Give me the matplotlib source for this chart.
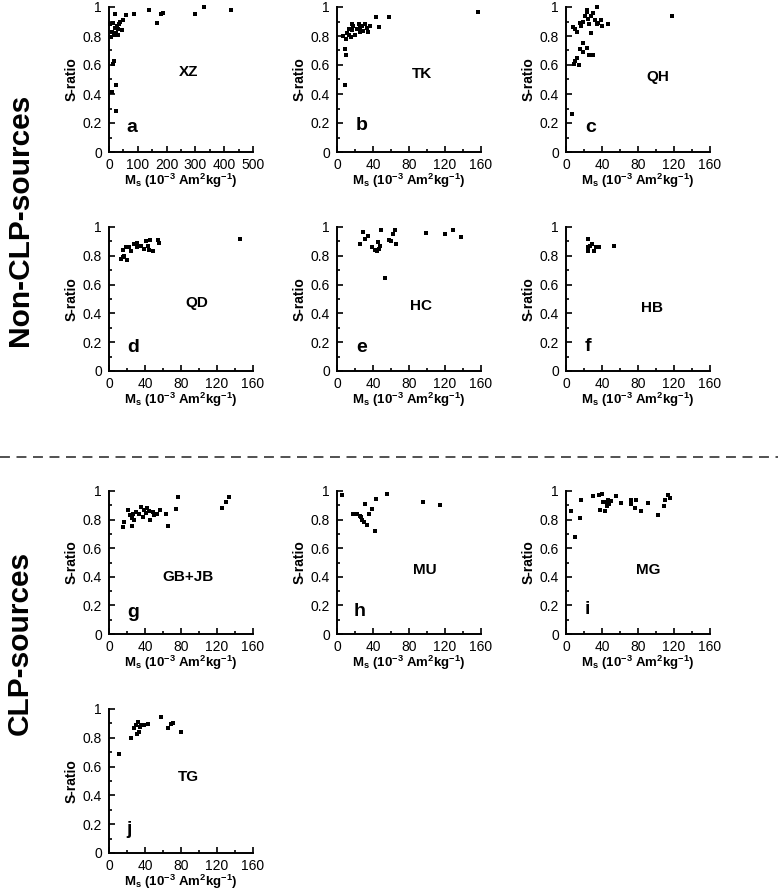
import matplotlib
matplotlib.use('Agg')
import matplotlib.pyplot as plt
from matplotlib.ticker import MultipleLocator, FuncFormatter
from matplotlib.lines import Line2D

plt.rcParams['font.family'] = ['Liberation Sans', 'DejaVu Sans']
plt.rcParams['mathtext.fontset'] = 'custom'
plt.rcParams['mathtext.rm'] = 'Liberation Sans:bold'
plt.rcParams['mathtext.it'] = 'Liberation Sans:bold'
plt.rcParams['mathtext.bf'] = 'Liberation Sans:bold'

# ---------------- data ----------------
xz_ms = [20, 35, 49, 60, 46, 86, 140, 165, 180, 188, 299, 330, 423, 8, 14, 20, 26, 28, 31, 12, 37,
         16, 16, 14, 26, 12, 23, 5, 31]
xz_s = [0.954, 0.88, 0.91, 0.945, 0.84, 0.954, 0.977, 0.89, 0.954, 0.96, 0.95, 1.0, 0.98, 0.79,
        0.89, 0.857, 0.82, 0.87, 0.81, 0.83, 0.90, 0.81, 0.627, 0.61, 0.465, 0.415, 0.286, 0.88, 0.85]

tk_ms = [157, 58, 43, 47, 8.5, 10, 9, 7, 11, 13, 15, 16.5, 18, 20, 22, 24, 26, 27.5, 29, 31, 33,
         34, 16.5, 13, 10, 26, 37]
tk_s = [0.963, 0.93, 0.93, 0.86, 0.71, 0.667, 0.46, 0.80, 0.82, 0.85, 0.79, 0.84, 0.87, 0.81,
        0.845, 0.886, 0.856, 0.87, 0.833, 0.886, 0.856, 0.826, 0.88, 0.81, 0.776, 0.83, 0.87]

qh_ms = [118, 34, 23, 8, 12, 10, 15, 19, 21, 24, 25, 28, 30, 32, 36, 40, 47, 28, 17, 34, 39, 23,
         19, 23, 15, 26, 19, 12, 10, 14, 9, 30, 7]
qh_s = [0.94, 1.0, 0.98, 0.86, 0.83, 0.85, 0.89, 0.90, 0.94, 0.92, 0.88, 0.94, 0.96, 0.91, 0.89,
        0.87, 0.885, 0.82, 0.87, 0.88, 0.91, 0.965, 0.75, 0.72, 0.71, 0.67, 0.69, 0.65, 0.63, 0.60,
        0.61, 0.67, 0.26]

qd_ms = [145, 13, 17, 15, 18.5, 20, 24, 28, 31, 35, 39, 41, 43, 46, 49, 54, 55, 22, 31, 15, 44]
qd_s = [0.92, 0.78, 0.80, 0.84, 0.86, 0.77, 0.83, 0.88, 0.89, 0.87, 0.85, 0.90, 0.87, 0.91, 0.83,
        0.91, 0.89, 0.86, 0.86, 0.79, 0.84]

hc_ms = [25, 29, 31, 34, 39, 42, 45, 48, 49, 44, 53, 58, 60, 62.5, 64, 66, 47, 99, 120, 129, 138]
hc_s = [0.884, 0.965, 0.92, 0.94, 0.86, 0.84, 0.896, 0.87, 0.98, 0.83, 0.648, 0.91, 0.90, 0.95,
        0.98, 0.88, 0.85, 0.958, 0.954, 0.98, 0.93]

hb_ms = [24, 24, 27, 29, 31, 33, 37, 24, 53]
hb_s = [0.92, 0.83, 0.87, 0.88, 0.83, 0.86, 0.86, 0.86, 0.866]

gbjb_ms = [15.5, 16.5, 21, 23, 25, 25, 26.5, 28, 30, 33, 37.5, 39, 42, 44, 46, 48.5, 50, 53, 57,
           63, 66, 74, 77, 126, 130.5, 133, 36, 41]
gbjb_s = [0.745, 0.784, 0.865, 0.83, 0.81, 0.754, 0.84, 0.796, 0.854, 0.84, 0.82, 0.87, 0.884,
          0.86, 0.80, 0.854, 0.83, 0.84, 0.865, 0.84, 0.754, 0.877, 0.958, 0.884, 0.92, 0.958,
          0.89, 0.847]

mu_ms = [6, 18, 22, 25, 28, 31, 30.5, 33, 35, 38.6, 42, 43, 55, 95.6, 114, 27]
mu_s = [0.97, 0.842, 0.842, 0.824, 0.80, 0.907, 0.784, 0.76, 0.838, 0.877, 0.72, 0.947, 0.977,
        0.923, 0.90, 0.82]

mg_ms = [6, 10, 16, 17, 30.5, 37, 40, 38, 41.6, 43, 45, 48, 50, 47, 55, 60.7, 72, 72.5, 78, 77,
         83, 91, 102, 109, 110, 113, 116, 44]
mg_s = [0.86, 0.68, 0.81, 0.94, 0.963, 0.97, 0.977, 0.87, 0.923, 0.86, 0.893, 0.912, 0.93, 0.94,
        0.963, 0.916, 0.935, 0.912, 0.94, 0.884, 0.86, 0.916, 0.83, 0.893, 0.94, 0.97, 0.954, 0.923]

tg_ms = [11, 24, 27.7, 30.7, 32, 34, 33, 36, 43, 39, 58, 65, 69, 71, 79.5, 29.5]
tg_s = [0.687, 0.80, 0.865, 0.826, 0.91, 0.877, 0.84, 0.89, 0.893, 0.89, 0.947, 0.865, 0.893,
        0.90, 0.838, 0.89]

panel_letters = ['a', 'b', 'c', 'd', 'e', 'f', 'g', 'h', 'i', 'j']
site_names = ['XZ', 'TK', 'QH', 'QD', 'HC', 'HB', 'GB+JB', 'MU', 'MG', 'TG']
group_labels = ['Non-CLP-sources', 'CLP-sources']
y_label = 'S-ratio'
x_label = r'M$_\mathregular{s}$ (10$^\mathregular{-3}$ Am$^\mathregular{2}$kg$^\mathregular{-1}$)'

series = [(xz_ms, xz_s), (tk_ms, tk_s), (qh_ms, qh_s), (qd_ms, qd_s), (hc_ms, hc_s),
          (hb_ms, hb_s), (gbjb_ms, gbjb_s), (mu_ms, mu_s), (mg_ms, mg_s), (tg_ms, tg_s)]

# ---------------- layout ----------------
W, H = 778, 891
fig = plt.figure(figsize=(W / 100, H / 100), dpi=100)

col_left = [109, 337, 566]
ax_w = 144
rows = [(7, 152), (227, 371), (491, 634), (709, 853)]
grid = [(0, 0), (0, 1), (0, 2), (1, 0), (1, 1), (1, 2), (2, 0), (2, 1), (2, 2), (3, 0)]

letter_pos = [(0.16, 0.17), (0.17, 0.18), (0.17, 0.17), (0.17, 0.16), (0.17, 0.16),
              (0.15, 0.17), (0.17, 0.15), (0.16, 0.155), (0.15, 0.17), (0.14, 0.16)]
site_pos = [(0.55, 0.55), (0.59, 0.54), (0.64, 0.52), (0.61, 0.47), (0.58, 0.45),
            (0.60, 0.44), (0.55, 0.40), (0.61, 0.45), (0.57, 0.45), (0.55, 0.53)]

fmt = FuncFormatter(lambda v, p: ('%g' % round(v, 3)))

for i, ((r, c), (xs, ys)) in enumerate(zip(grid, series)):
    top, bot = rows[r]
    left = col_left[c]
    ax = fig.add_axes([left / W, 1 - bot / H, ax_w / W, (bot - top) / H])
    ax.plot(xs, ys, 's', color='black', markersize=3.3, markeredgewidth=0, clip_on=False)
    if i == 0:
        ax.set_xlim(0, 500)
        ax.xaxis.set_major_locator(MultipleLocator(100))
        ax.xaxis.set_minor_locator(MultipleLocator(50))
    else:
        ax.set_xlim(0, 160)
        ax.xaxis.set_major_locator(MultipleLocator(40))
        ax.xaxis.set_minor_locator(MultipleLocator(20))
    ax.set_ylim(0, 1)
    ax.yaxis.set_major_locator(MultipleLocator(0.2))
    ax.yaxis.set_minor_locator(MultipleLocator(0.1))
    ax.xaxis.set_major_formatter(fmt)
    ax.yaxis.set_major_formatter(fmt)
    for s in ['top', 'right']:
        ax.spines[s].set_visible(False)
    for s in ['left', 'bottom']:
        ax.spines[s].set_linewidth(1.4)
    ax.tick_params(which='major', direction='in', length=4.5, width=1.2, labelsize=10,
                   pad=5)
    ax.tick_params(which='minor', direction='in', length=2.5, width=1.2)
    ax.tick_params(axis='x', which='major', pad=4)
    ax.set_ylabel(y_label, fontsize=10, fontweight='bold', labelpad=3)
    ax.set_xlabel(x_label, fontsize=9.5, fontweight='bold', labelpad=0)
    ax.text(*letter_pos[i], panel_letters[i], transform=ax.transAxes, fontsize=14,
            fontweight='bold', ha='center', va='center')
    ax.text(*site_pos[i], site_names[i], transform=ax.transAxes, fontsize=11,
            fontweight='bold', ha='center', va='center')

fig.text(20 / W, 1 - 220 / H, group_labels[0], rotation=90, fontsize=21.5,
         fontweight='bold', ha='center', va='center')
fig.text(20 / W, 1 - 643 / H, group_labels[1], rotation=90, fontsize=21.5,
         fontweight='bold', ha='center', va='center')

fig.add_artist(Line2D([0, 1], [1 - 457 / H, 1 - 457 / H], transform=fig.transFigure,
                      color='#222222', linewidth=1.1, dashes=(6.5, 4.3)))

fig.savefig('out.png', dpi=100, facecolor='white')
